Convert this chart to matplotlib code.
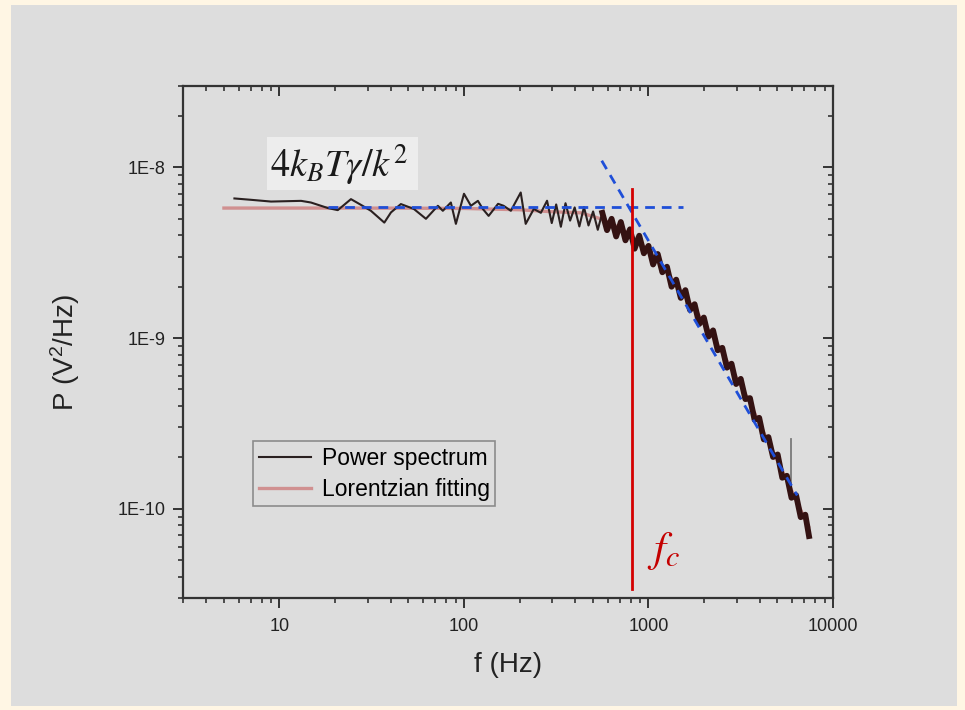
import matplotlib
matplotlib.use('Agg')
import matplotlib.pyplot as plt
from matplotlib.patches import Rectangle
from matplotlib.ticker import FixedLocator, FixedFormatter, LogLocator, NullFormatter

plt.rcParams['font.family'] = ['Liberation Sans', 'DejaVu Sans']
plt.rcParams['mathtext.fontset'] = 'custom'
plt.rcParams['mathtext.rm'] = 'Liberation Sans'
plt.rcParams['mathtext.it'] = 'Liberation Sans:italic'
plt.rcParams['mathtext.bf'] = 'Liberation Sans:bold'

# ---------------- data ----------------
# Power spectrum, sparse low-frequency part
freq_low = [5.70, 7.02, 9.0, 13.1, 14.8, 18.3, 20.7, 24.4, 28.2, 31.3, 37.0, 40.2,
            45.5, 53.5, 62.2, 72.2, 76.8, 84.9, 90.4, 100, 109, 119, 126.5, 136,
            153, 164, 179.5, 203, 216, 239, 261]
power_low = [6.58e-9, 6.46e-9, 6.31e-9, 6.37e-9, 6.23e-9, 5.78e-9, 5.62e-9, 6.52e-9,
             5.96e-9, 5.57e-9, 4.75e-9, 5.45e-9, 6.10e-9, 5.71e-9, 5.00e-9, 5.96e-9,
             5.57e-9, 6.23e-9, 4.67e-9, 7.01e-9, 5.96e-9, 6.37e-9, 5.71e-9, 5.20e-9,
             6.12e-9, 5.96e-9, 5.57e-9, 7.13e-9, 4.67e-9, 5.71e-9, 5.42e-9]

# Power spectrum, dense high-frequency part (noisy band)
freq_dense = [282, 299, 316, 335, 355, 376, 398, 422, 447, 473, 501, 531, 562, 596,
              631, 668, 708, 750, 794, 841, 891, 944, 1000, 1059, 1122, 1189, 1259,
              1334, 1413, 1496, 1585, 1679, 1778, 1884, 1995, 2113, 2239, 2371, 2512,
              2661, 2818, 2985, 3162, 3350, 3548, 3758, 3981, 4217, 4467, 4732, 5012,
              5309, 5623, 5957, 6310, 6683, 7079, 7413]
power_dense = [6.38e-9, 4.72e-9, 6.07e-9, 4.49e-9, 6.17e-9, 4.88e-9, 5.83e-9, 4.51e-9,
               5.86e-9, 4.57e-9, 5.52e-9, 4.31e-9, 5.42e-9, 4.29e-9, 5.00e-9, 3.94e-9,
               4.79e-9, 3.74e-9, 4.34e-9, 3.34e-9, 3.98e-9, 3.14e-9, 3.47e-9, 2.70e-9,
               3.11e-9, 2.43e-9, 2.62e-9, 2.00e-9, 2.20e-9, 1.72e-9, 1.91e-9, 1.46e-9,
               1.58e-9, 1.21e-9, 1.32e-9, 1.02e-9, 1.11e-9, 8.49e-10, 8.77e-10, 6.71e-10,
               7.08e-10, 5.38e-10, 5.77e-10, 4.39e-10, 4.45e-10, 3.32e-10, 3.41e-10,
               2.55e-10, 2.63e-10, 2.01e-10, 2.08e-10, 1.52e-10, 1.56e-10, 1.16e-10,
               1.20e-10, 8.93e-11, 9.23e-11, 6.92e-11]

# single isolated spike in the power spectrum
spike_f = [5890, 5890]
spike_P = [1.30e-10, 2.58e-10]

# Lorentzian fitting curve
freq_fit = [5.0, 10, 20, 50, 100, 200, 300, 430, 551, 664, 800, 964, 1206, 1495,
            1845, 2254, 2786, 3444, 4207, 5200, 6270, 7370]
power_fit = [5.78e-9, 5.78e-9, 5.78e-9, 5.77e-9, 5.75e-9, 5.65e-9, 5.50e-9, 5.42e-9,
             5.00e-9, 4.55e-9, 4.03e-9, 3.37e-9, 2.61e-9, 1.89e-9, 1.40e-9, 1.00e-9,
             6.76e-10, 4.45e-10, 2.81e-10, 1.75e-10, 1.14e-10, 7.87e-11]

# Guide lines
plateau_f = [18.3, 1541]
plateau_P = [5.87e-9, 5.87e-9]
slope_f = [558, 6397]
slope_P = [1.095e-8, 1.197e-10]
fc_f = [818, 818]
fc_P = [7.5e-9, 3.38e-11]

xticks = [10, 100, 1000, 10000]
xtick_labels = ['10', '100', '1000', '10000']
yticks = [1e-10, 1e-9, 1e-8]
ytick_labels = ['1E-10', '1E-9', '1E-8']

# ---------------- figure ----------------
W, H = 965, 710
fig = plt.figure(figsize=(W / 100, H / 100), dpi=100)
fig.patch.set_facecolor('#FFF6E4')
fig.patches.append(Rectangle((11 / W, 4 / H), (957 - 11) / W, (705 - 4) / H,
                             transform=fig.transFigure, facecolor='#DDDDDD',
                             edgecolor='none', zorder=-10))

L, R, T, B = 183, 833, 86, 598
ax = fig.add_axes([L / W, 1 - B / H, (R - L) / W, (B - T) / H])
ax.set_facecolor('none')

split = 12  # dense band becomes thick beyond ~560 Hz
ax.plot(freq_fit, power_fit, color='#D09090', lw=2.4, zorder=2,
        label='Lorentzian fitting')
ax.plot(freq_low + freq_dense[:split + 1], power_low + power_dense[:split + 1],
        color='#2a2020', lw=1.5, zorder=3, label='Power spectrum')
ax.plot(freq_dense[split:], power_dense[split:], color='#341212', lw=4.2, zorder=3)
ax.plot(spike_f, spike_P, color='#7a7a7a', lw=1.3, zorder=2)
ax.plot(plateau_f, plateau_P, color='#1F4FD8', lw=2, ls=(0, (3.5, 2.5)), zorder=4)
ax.plot(slope_f, slope_P, color='#1F4FD8', lw=2, ls=(0, (3.5, 2.5)), zorder=4)
ax.plot(fc_f, fc_P, color='#D40000', lw=2, zorder=5)

ax.set_xscale('log')
ax.set_yscale('log')
ax.set_xlim(3, 10000)
ax.set_ylim(3e-11, 3e-8)

axis_col = '#333333'
for s in ax.spines.values():
    s.set_color(axis_col)
    s.set_linewidth(1.6)

ax.xaxis.set_major_locator(FixedLocator(xticks))
ax.xaxis.set_major_formatter(FixedFormatter(xtick_labels))
ax.xaxis.set_minor_locator(LogLocator(base=10, subs=range(2, 10), numticks=20))
ax.xaxis.set_minor_formatter(NullFormatter())
ax.yaxis.set_major_locator(FixedLocator(yticks))
ax.yaxis.set_major_formatter(FixedFormatter(ytick_labels))
ax.yaxis.set_minor_locator(LogLocator(base=10, subs=range(2, 10), numticks=20))
ax.yaxis.set_minor_formatter(NullFormatter())

ax.tick_params(which='major', direction='out', length=7.5, width=1.4, color=axis_col,
               labelsize=13, labelcolor='#222222', pad=5)
ax.tick_params(which='minor', direction='out', length=3.8, width=1.2, color=axis_col)
ax.tick_params(axis='x', which='major', pad=7)

# mirrored ticks pointing inward on top and right
axt = ax.twiny()
axt.set_xscale('log')
axt.set_xlim(ax.get_xlim())
axt.xaxis.set_major_locator(FixedLocator(xticks))
axt.xaxis.set_minor_locator(LogLocator(base=10, subs=range(2, 10), numticks=20))
axt.xaxis.set_major_formatter(NullFormatter())
axt.xaxis.set_minor_formatter(NullFormatter())
axt.tick_params(which='major', direction='in', length=7.5, width=1.4, color=axis_col)
axt.tick_params(which='minor', direction='in', length=3.8, width=1.2, color=axis_col)
axr = ax.twinx()
axr.set_yscale('log')
axr.set_ylim(ax.get_ylim())
axr.yaxis.set_major_locator(FixedLocator(yticks))
axr.yaxis.set_minor_locator(LogLocator(base=10, subs=range(2, 10), numticks=20))
axr.yaxis.set_major_formatter(NullFormatter())
axr.yaxis.set_minor_formatter(NullFormatter())
axr.tick_params(which='major', direction='in', length=7.5, width=1.4, color=axis_col)
axr.tick_params(which='minor', direction='in', length=3.8, width=1.2, color=axis_col)
for a in (axt, axr):
    for s in a.spines.values():
        s.set_visible(False)

ax.set_xlabel('f (Hz)', fontsize=20, color='#222222')
ax.set_ylabel('P (V$^2$/Hz)', fontsize=20, color='#222222')
ax.xaxis.set_label_coords(0.5, -0.105)
ax.yaxis.set_label_coords(-0.155, 0.48)

handles, labels = ax.get_legend_handles_labels()
leg = ax.legend(handles[::-1], labels[::-1], loc='upper left',
                bbox_to_anchor=((253 - L) / (R - L), (B - 441) / (B - T)),
                borderaxespad=0, fontsize=16.5, frameon=True, fancybox=False,
                edgecolor='#777777', facecolor='none', handlelength=2.3,
                handletextpad=0.45, labelspacing=0.35, borderpad=0.25)
leg.get_frame().set_linewidth(1.2)

# formula box
ax.add_patch(Rectangle(((267 - L) / (R - L), (B - 190) / (B - T)),
                       (418 - 267) / (R - L), (190 - 137) / (B - T),
                       transform=ax.transAxes, facecolor='#EDEDED', edgecolor='none',
                       zorder=6))
ax.text((270 - L) / (R - L), (B - 176.5) / (B - T), r'$4k_BT\gamma/k^{2}$',
        transform=ax.transAxes, fontsize=27.5, math_fontfamily='stix', color='#1a1a1a',
        ha='left', va='baseline', zorder=7)
ax.text((664 - L) / (R - L), (B - 551) / (B - T), r'$f_c$', transform=ax.transAxes,
        fontsize=31, math_fontfamily='stix', color='#C40000', ha='center', va='center',
        zorder=7)

fig.savefig('out.png', dpi=100, facecolor=fig.get_facecolor())
